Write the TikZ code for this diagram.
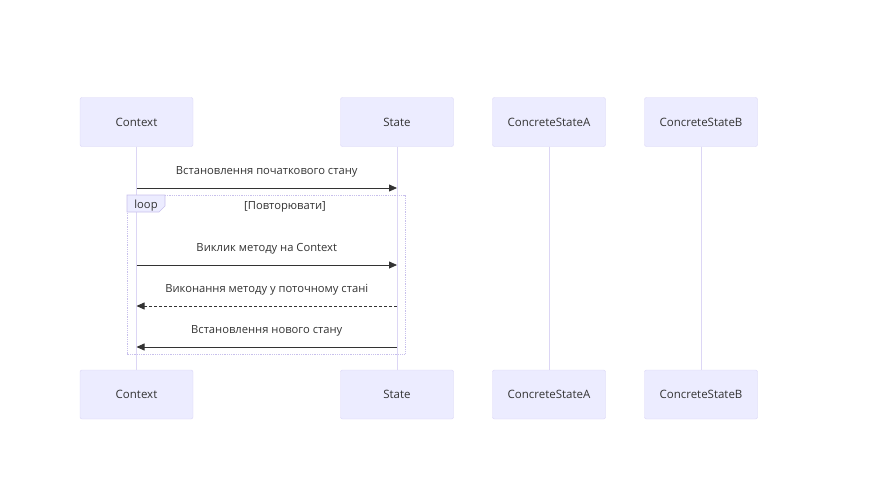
\documentclass[tikz,border=0pt]{standalone}
\usepackage{fontspec}
\setmainfont{Open Sans}
\usetikzlibrary{arrows.meta}
\definecolor{actfill}{HTML}{ECECFF}
\definecolor{actline}{HTML}{D9D4F6}
\definecolor{lifeline}{HTML}{DCD6F5}
\definecolor{msgline}{HTML}{333333}
\definecolor{loopline}{HTML}{C8C0EC}
\tikzset{
	actor/.style={draw=actline,fill=actfill,rounded corners=2pt,minimum width=113pt,minimum height=49pt,inner sep=0pt,font=\fontsize{11.5}{13}\selectfont,text=msgline},
	msg/.style={draw=msgline,line width=0.8pt,-{Triangle[length=8pt,width=7pt]}},
	msglabel/.style={font=\fontsize{11.2}{13}\selectfont,text=msgline},
}
\begin{document}
\begin{tikzpicture}[x=1pt,y=-1pt]
	\useasboundingbox (0,0) rectangle (892,482);
	% учасники
	\foreach \nm/\xx/\txt in {ctx/136.5/Context,st/397/State,csa/549/ConcreteStateA,csb/701/ConcreteStateB}{
		\node[actor] (t\nm) at (\xx,122) {\txt};
		\node[actor] (b\nm) at (\xx,394.5) {\txt};
		\draw[lifeline,line width=1pt] (t\nm.south) -- (b\nm.north); %lifeline
	}
	% петля
	\draw[loopline,densely dotted,line width=0.8pt] (127,195) rectangle (405,354);
	\filldraw[draw=loopline,fill=actfill,line width=0.6pt] (127,195) -- (165,195) -- (165,206) -- (159,212) -- (127,212) -- cycle;
	\node[msglabel] (looptag) at (146,205.5) {loop};
	\node[msglabel] (loopcond) at (285,207) {[Повторювати]};
	% повідомлення
	\coordinate (c1) at (tctx.south |- 0,188);
	\coordinate (s1) at (tst.south |- 0,188);
	\draw[msg] (c1) -- (s1) node[msglabel,midway,above=7pt] {Встановлення початкового стану};
	\coordinate (c2) at (tctx.south |- 0,265);
	\coordinate (s2) at (tst.south |- 0,265);
	\draw[msg] (c2) -- (s2) node[msglabel,midway,above=7pt] {Виклик методу на Context};
	\coordinate (s3) at (tst.south |- 0,306);
	\coordinate (c3) at (tctx.south |- 0,306);
	\draw[msg,densely dashed] (s3) -- (c3) node[msglabel,midway,above=7pt] {Виконання методу у поточному стані};
	\coordinate (s4) at (tst.south |- 0,347);
	\coordinate (c4) at (tctx.south |- 0,347);
	\draw[msg] (s4) -- (c4) node[msglabel,midway,above=7pt] {Встановлення нового стану};
\end{tikzpicture}
\end{document}
